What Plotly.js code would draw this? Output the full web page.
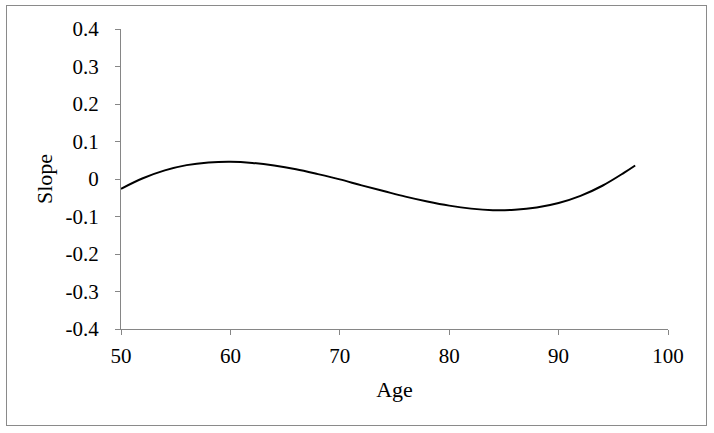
<!DOCTYPE html>
<html>
<head>
<meta charset="utf-8">
<script src="https://cdn.plot.ly/plotly-3.0.1.min.js"></script>
<style>
  html, body { margin: 0; padding: 0; background: #fff; }
  #frame { position: absolute; left: 6px; top: 5px; width: 699px; height: 419px; border: 1.5px solid #8a8a8a; }
  #chart { position: absolute; left: 0; top: 0; width: 714px; height: 433px; }
</style>
</head>
<body>
<div id="frame"></div>
<div id="chart"></div>
<script>
// Data
const age = [50, 52, 54, 56, 58, 60, 62, 64, 66, 68, 70, 72, 74, 76, 78, 80, 82, 84, 86, 88, 90, 92, 94, 96, 97];
const slope = [-0.026, 0.002, 0.023, 0.037, 0.044, 0.046, 0.043, 0.036, 0.026, 0.013, -0.001, -0.017, -0.032, -0.047, -0.060, -0.071, -0.079, -0.083, -0.082, -0.076, -0.064, -0.045, -0.018, 0.017, 0.036];
const xTicks = [50, 60, 70, 80, 90, 100];
const yTicks = [-0.4, -0.3, -0.2, -0.1, 0, 0.1, 0.2, 0.3, 0.4];
const yTickText = ['-0.4', '-0.3', '-0.2', '-0.1', '0', '0.1', '0.2', '0.3', '0.4'];

const font = 'Liberation Serif';
const axisColor = '#868686';

Plotly.newPlot('chart', [{
  x: age, y: slope, type: 'scatter', mode: 'lines',
  line: { color: '#000', width: 2, shape: 'spline', smoothing: 1 },
  hoverinfo: 'skip'
}], {
  width: 714, height: 433,
  margin: { l: 121, r: 46, t: 29, b: 104 },
  paper_bgcolor: 'rgba(0,0,0,0)', plot_bgcolor: 'rgba(0,0,0,0)',
  showlegend: false,
  font: { family: font, color: '#000', size: 21 },
  xaxis: {
    range: [50, 100], tickvals: xTicks, ticktext: xTicks.map(String),
    showgrid: false, zeroline: false, showline: true, linecolor: axisColor, linewidth: 1,
    ticks: 'outside', ticklen: 5, tickcolor: axisColor, tickwidth: 1,
    tickfont: { family: font, size: 21, color: '#000' },
    ticklabelstandoff: 3,
    title: { text: 'Age', font: { family: font, size: 22, color: '#000' }, standoff: 14 }
  },
  yaxis: {
    range: [-0.4, 0.4], tickvals: yTicks, ticktext: yTickText,
    showgrid: false, zeroline: false, showline: true, linecolor: axisColor, linewidth: 1,
    ticks: 'outside', ticklen: 5, tickcolor: axisColor, tickwidth: 1,
    tickfont: { family: font, size: 21, color: '#000' },
    ticklabelstandoff: 12,
    title: { text: 'Slope', font: { family: font, size: 22, color: '#000' }, standoff: 6 }
  }
}, { staticPlot: true });
</script>
</body>
</html>
